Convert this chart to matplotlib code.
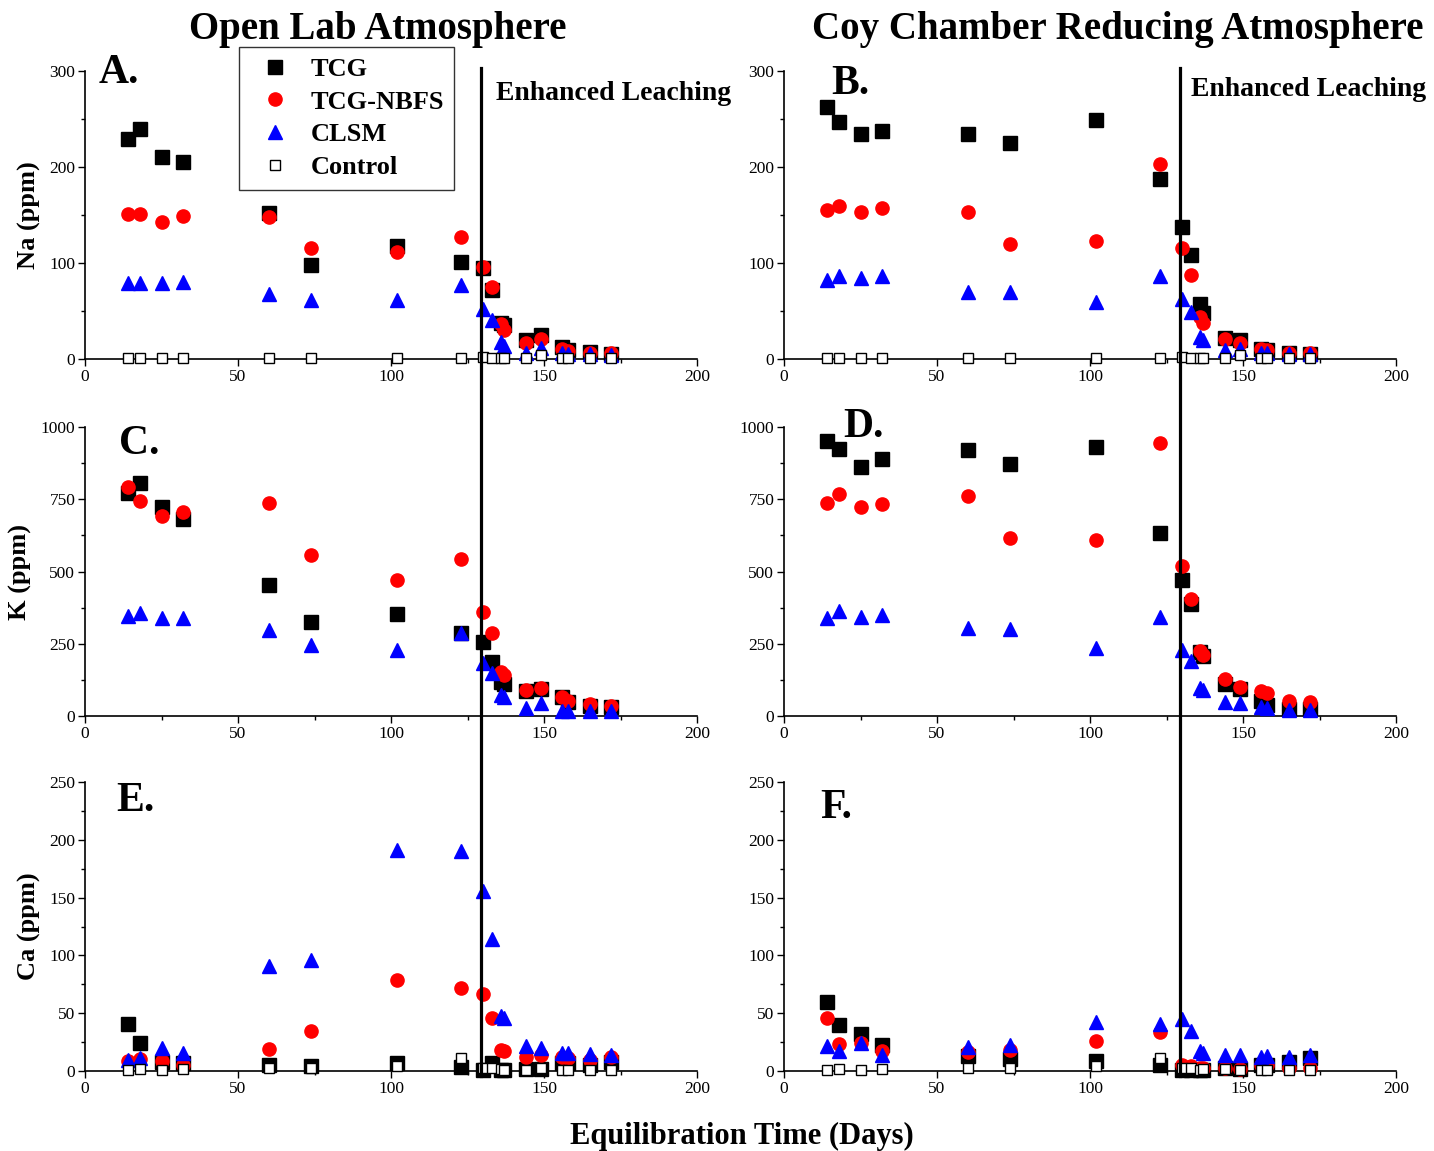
import matplotlib
matplotlib.use("Agg")
import matplotlib.pyplot as plt
from matplotlib.lines import Line2D
from matplotlib.ticker import MultipleLocator
import matplotlib.transforms as mtransforms

plt.rcParams['font.family'] = ['Liberation Serif', 'DejaVu Serif']

days = [14, 18, 25, 32, 60, 74, 102, 123, 130, 133, 136, 137, 144, 149, 156, 158, 165, 172]

# Panel A: Na, open lab
na_open_tcg = [229, 240, 210, 205, 152, 98, 118, 101, 95, 72, 38, 35, 20, 25, 13, 9, 7, 5]
na_open_nbfs = [151, 151, 143, 149, 148, 116, 111, 127, 96, 75, 36, 30, 17, 21, 10, 8, 6, 6]
na_open_clsm = [79, 79, 79, 80, 68, 61, 61, 77, 52, 41, 18, 14, 6, 11, 6, 5, 5, 4]
na_open_ctrl = [1.5, 1.5, 1.5, 1.5, 1.5, 1.5, 1.5, 1.5, 2.5, 1.5, 1.5, 1.5, 1.5, 4, 1.5, 1.5, 1.5, 1.5]

# Panel B: Na, reducing
na_red_tcg = [262, 247, 234, 238, 234, 225, 249, 187, 137, 108, 57, 48, 22, 20, 10, 9, 6, 5]
na_red_nbfs = [155, 159, 153, 157, 153, 120, 123, 203, 116, 87, 44, 37, 21, 17, 10, 9, 6.5, 6]
na_red_clsm = [82, 86, 84, 86, 70, 70, 59, 86, 62, 49, 23, 20, 9, 10, 6.5, 6.5, 5, 5]
na_red_ctrl = [1.5, 1.5, 1.5, 1.5, 1.5, 1.5, 1.5, 1.5, 2, 1.5, 1.5, 1.5, 1.5, 4, 1.5, 1.5, 1.5, 1.5]

# Panel C: K, open lab
k_open_tcg = [770, 805, 722, 680, 452, 324, 352, 286, 255, 186, 119, 111, 88, 92, 65, 50, 36, 32]
k_open_nbfs = [793, 745, 692, 707, 737, 557, 470, 544, 361, 288, 153, 142, 90, 98, 67, 53, 40, 36]
k_open_clsm = [346, 355, 339, 340, 298, 246, 228, 286, 182, 148, 73, 67, 27, 46, 18, 18, 18, 17]

# Panel D: K, reducing
k_red_tcg = [950, 925, 860, 888, 920, 871, 930, 632, 469, 386, 223, 208, 110, 93, 52, 38, 23, 23]
k_red_nbfs = [738, 768, 722, 734, 761, 615, 609, 944, 519, 406, 226, 211, 127, 101, 86, 78, 53, 50]
k_red_clsm = [338, 363, 344, 350, 306, 301, 236, 344, 228, 191, 98, 90, 50, 46, 30, 27, 21, 21]

# Panel E: Ca, open lab
ca_open_tcg = [41, 24, 8, 6.5, 5, 4.5, 6.5, 3.5, 1, 6.5, 0.5, 0.5, 1.5, 2, 6.5, 6.5, 5, 8]
ca_open_nbfs = [9, 10, 8.5, 5, 19, 35, 79, 72, 67, 46, 18, 17, 12, 14, 12, 11, 9.5, 12]
ca_open_clsm = [9.5, 11, 20, 16, 91, 96, 191, 190, 156, 114, 48, 46, 22, 20, 16, 16, 15, 14]
ca_open_ctrl = [1, 2, 1, 2, 3, 3, 4, 11.5, 3, 3, 1.5, 1, 1, 2.3, 1, 1, 1, 1]

# Panel F: Ca, reducing
ca_red_tcg = [60, 40, 32, 22.5, 13, 10.5, 9, 5, 1, 1, 1, 1, 3, 2, 5, 5, 8, 11]
ca_red_nbfs = [46, 23, 24, 17.5, 16.5, 18, 26, 34, 5, 4.5, 3, 3, 3, 1.5, 5, 5, 3, 3]
ca_red_clsm = [21.5, 17.5, 24, 14, 21, 22.5, 42, 41, 45, 35, 17, 16, 14, 14, 12.5, 13, 12.5, 14]
ca_red_ctrl = [1, 2, 1, 2, 3, 3, 4, 11, 2.3, 2.3, 1, 1.5, 1.5, 1, 1, 1, 1, 1]

series_names = ['TCG', 'TCG-NBFS', 'CLSM', 'Control']
leach_day = 129.5

W, H = 1434, 1151
fig = plt.figure(figsize=(W / 100, H / 100), dpi=100)

def px_axes(x0, x1, ytop, ybot):
    return fig.add_axes([x0 / W, 1 - ybot / H, (x1 - x0) / W, (ybot - ytop) / H])

styles = [
    dict(marker='s', color='black', ms=9.5, ls='none', mec='black', zorder=3),
    dict(marker='o', color='red', ms=9.5, ls='none', mec='red', zorder=4),
    dict(marker='^', color='blue', ms=10, ls='none', mec='blue', zorder=5),
    dict(marker='s', color='white', ms=7.5, ls='none', mec='black', mew=1.0, zorder=6),
]

panels = [
    ('A.', (85, 697, 71, 359), [na_open_tcg, na_open_nbfs, na_open_clsm, na_open_ctrl], 300, 100, 50, 'Na (ppm)', (99, 73)),
    ('B.', (784, 1396, 71, 359), [na_red_tcg, na_red_nbfs, na_red_clsm, na_red_ctrl], 300, 100, 50, None, (831, 84)),
    ('C.', (85, 697, 427, 716), [k_open_tcg, k_open_nbfs, k_open_clsm, None], 1000, 250, 125, 'K (ppm)', (119, 444)),
    ('D.', (784, 1396, 427, 716), [k_red_tcg, k_red_nbfs, k_red_clsm, None], 1000, 250, 125, None, (843, 427)),
    ('E.', (85, 697, 782, 1071), [ca_open_tcg, ca_open_nbfs, ca_open_clsm, ca_open_ctrl], 250, 50, 25, 'Ca (ppm)', (116, 801)),
    ('F.', (784, 1396, 782, 1071), [ca_red_tcg, ca_red_nbfs, ca_red_clsm, ca_red_ctrl], 250, 50, 25, None, (820, 808)),
]

axes = []
for letter, box, data, ymax, ymaj, ymin, ylab, lpos in panels:
    ax = px_axes(*box)
    axes.append(ax)
    for name, vals, st in zip(series_names, data, styles):
        if vals is None:
            continue
        ax.plot(days, vals, label=name, clip_on=False, **st)
    ax.set_xlim(0, 200)
    ax.set_ylim(0, ymax)
    ax.xaxis.set_major_locator(MultipleLocator(50))
    ax.xaxis.set_minor_locator(MultipleLocator(25))
    ax.yaxis.set_major_locator(MultipleLocator(ymaj))
    ax.yaxis.set_minor_locator(MultipleLocator(ymin))
    for s in ['top', 'right']:
        ax.spines[s].set_visible(False)
    for s in ['left', 'bottom']:
        ax.spines[s].set_linewidth(1.2)
    ax.tick_params(which='major', direction='out', length=5, width=1.0, labelsize=12.5, pad=2)
    ax.tick_params(which='minor', direction='out', length=3, width=1.0)
    ax.patch.set_alpha(0)
    if ylab:
        ax.set_ylabel(ylab, fontsize=19, fontweight='bold', labelpad=6)
    fig.text(lpos[0] / W, 1 - lpos[1] / H, letter, fontsize=30, fontweight='bold',
             ha='left', va='center')

# vertical "enhanced leaching" lines across each column
for ax in (axes[0], axes[1]):
    tr = mtransforms.blended_transform_factory(ax.transData, fig.transFigure)
    fig.add_artist(Line2D([leach_day, leach_day], [1 - 68 / H, 1 - 1076 / H],
                          transform=tr, color='black', lw=2.3, zorder=10))

fig.text(496 / W, 1 - 93 / H, 'Enhanced Leaching', fontsize=20, fontweight='bold', ha='left', va='center')
fig.text(1191 / W, 1 - 89 / H, 'Enhanced Leaching', fontsize=20, fontweight='bold', ha='left', va='center')

fig.text(378 / W, 1 - 29 / H, 'Open Lab Atmosphere', fontsize=28, fontweight='bold', ha='center', va='center')
fig.text(1118 / W, 1 - 29 / H, 'Coy Chamber Reducing Atmosphere', fontsize=28, fontweight='bold', ha='center', va='center')
fig.text(742 / W, 1 - 1136 / H, 'Equilibration Time (Days)', fontsize=22, fontweight='bold', ha='center', va='center')

handles, labels = axes[0].get_legend_handles_labels()
leg = fig.legend(handles, labels, loc='upper left', bbox_to_anchor=(239 / W, 1 - 47 / H),
                 frameon=True, fancybox=False, edgecolor='#333333', framealpha=1,
                 prop={'family': 'Liberation Serif', 'weight': 'bold', 'size': 19},
                 handletextpad=0.4, labelspacing=0.35, borderpad=0.4, handlelength=1.9,
                 borderaxespad=0)
leg.get_frame().set_linewidth(1.0)

fig.savefig('out.png', dpi=100)
